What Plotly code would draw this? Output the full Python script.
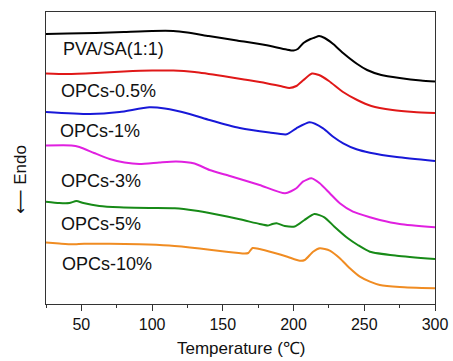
import plotly.graph_objects as go

# Temperature (°C) and heat flow (a.u.)
t_pva = [25, 40, 60, 80, 100, 115, 125, 140, 160, 180, 195, 200, 203, 207, 212, 215, 218, 222, 228, 235, 245, 252, 262, 275, 290, 300]
hf_pva = [27.0, 27.05, 27.1, 27.2, 27.3, 27.3, 27.15, 26.8, 26.35, 25.9, 25.45, 25.35, 25.5, 26.1, 26.5, 26.65, 26.8, 26.6, 26.0, 25.1, 24.0, 23.4, 22.9, 22.6, 22.35, 22.25]

t_05 = [25, 40, 60, 80, 100, 115, 130, 150, 165, 180, 192, 197, 202, 207, 213, 218, 225, 235, 245, 255, 270, 285, 300]
hf_05 = [23.05, 23.0, 23.1, 23.25, 23.35, 23.35, 23.2, 22.8, 22.45, 22.1, 21.75, 21.6, 21.8, 22.4, 23.05, 22.9, 22.3, 21.2, 20.4, 19.8, 19.4, 19.2, 19.1]

t_1 = [25, 56, 77, 98, 109, 126.5, 140.6, 162, 183, 195.2, 202, 211.5, 220.9, 228, 235.1, 244.5, 254, 273, 300]
hf_1 = [19.2, 19.0, 19.2, 19.67, 19.55, 19.0, 18.4, 17.6, 17.15, 16.97, 17.57, 18.17, 17.57, 16.73, 16.07, 15.47, 15.13, 14.7, 14.3]

t_3 = [25, 43, 48.6, 59, 70, 80.5, 91, 105, 117, 130, 140.6, 155, 176, 194, 202, 206.6, 212.6, 218.5, 225.6, 232.7, 242, 254, 261, 275, 300]
hf_3 = [15.85, 15.85, 15.7, 15.1, 14.5, 14.15, 14.0, 14.15, 14.25, 14.05, 13.4, 12.8, 11.9, 11.07, 11.57, 12.23, 12.57, 12.07, 11.07, 10.07, 9.23, 8.67, 8.4, 8.0, 7.67]

t_5 = [25, 34.4, 41.5, 46.5, 51.4, 62.7, 77, 98, 116, 130, 144, 162, 176, 181.7, 185, 188, 193.8, 200.8, 207.7, 214.7, 221.8, 228.9, 238.4, 245.4, 254, 273, 300]
hf_5 = [10.23, 10.1, 10.1, 10.3, 10.1, 9.8, 9.67, 9.6, 9.57, 9.35, 9.0, 8.47, 8.0, 7.85, 8.0, 8.07, 7.8, 7.75, 8.4, 9.0, 8.67, 7.73, 6.57, 5.9, 5.23, 4.83, 4.5]

t_10 = [25, 34.4, 43.6, 52, 70, 91, 112, 133.6, 151, 165.4, 168, 171, 176, 186.7, 195.6, 204.4, 207.9, 213.8, 218.6, 225.6, 232.7, 239.8, 246.9, 254, 261, 275, 300]
hf_10 = [6.15, 6.05, 5.97, 6.03, 6.02, 5.98, 5.85, 5.55, 5.25, 5.05, 5.1, 5.6, 5.5, 5.1, 4.73, 4.33, 4.4, 5.23, 5.57, 5.33, 4.57, 3.57, 2.73, 2.23, 1.9, 1.7, 1.57]

series_names = ["PVA/SA(1:1)", "OPCs-0.5%", "OPCs-1%", "OPCs-3%", "OPCs-5%", "OPCs-10%"]
series_t = [t_pva, t_05, t_1, t_3, t_5, t_10]
series_hf = [hf_pva, hf_05, hf_1, hf_3, hf_5, hf_10]
colors = ["#000000", "#E01818", "#1818D8", "#E020E0", "#178A17", "#F08C22"]

# label anchor positions (T, heat flow)
label_x = [35.8, 33.9, 33.2, 33.9, 33.9, 34.9]
label_y = [25.5, 21.35, 17.33, 12.33, 7.97, 4.0]

x_ticks = [50, 100, 150, 200, 250, 300]

FONT = "Liberation Sans, Arial, sans-serif"

fig = go.Figure()
for name, t, hf, c in zip(series_names, series_t, series_hf, colors):
    fig.add_trace(go.Scatter(x=t, y=hf, mode="lines", name=name,
                             line=dict(color=c, width=2, shape="spline", smoothing=0.6),
                             showlegend=False))

for name, lx, ly in zip(series_names, label_x, label_y):
    fig.add_annotation(x=lx, y=ly, xref="x", yref="y", text=name, showarrow=False,
                       xanchor="left", yanchor="middle",
                       font=dict(family=FONT, size=18, color="#111111"))

fig.add_annotation(x=-0.067, y=0.428, xref="paper", yref="paper",
                   text="<span style='font-family:DejaVu Sans'>⟵</span> Endo",
                   showarrow=False, textangle=-90, xanchor="center", yanchor="middle",
                   font=dict(family=FONT, size=17, color="#111111"))
fig.add_annotation(x=0.5, y=-0.151, xref="paper", yref="paper", text="Temperature (℃)",
                   showarrow=False, xanchor="center", yanchor="middle",
                   font=dict(family=FONT, size=17, color="#111111"))

fig.update_layout(
    width=453, height=361, autosize=False,
    margin=dict(l=46, r=18, t=12, b=57, autoexpand=False),
    plot_bgcolor="white", paper_bgcolor="white",
    font=dict(family=FONT, size=16, color="#111111"),
)
fig.update_xaxes(range=[25, 300], tickvals=x_ticks, ticks="outside", ticklen=6, tickwidth=1.2,
                 tickcolor="#333333", showline=True, linecolor="#333333", linewidth=1.3,
                 mirror=True, showgrid=False, zeroline=False, automargin=False,
                 tickfont=dict(family=FONT, size=16, color="#111111"),
                 minor=dict(dtick=25, tick0=25, ticks="outside", ticklen=3, tickcolor="#333333"))
fig.update_yaxes(range=[0, 29.2], showticklabels=False, ticks="", showline=True, automargin=False,
                 linecolor="#333333", linewidth=1.3, mirror=True, showgrid=False, zeroline=False)

fig.write_html("out.html", config={"displayModeBar": False},
               post_script="document.body.style.margin='0';document.body.style.overflow='hidden';")
